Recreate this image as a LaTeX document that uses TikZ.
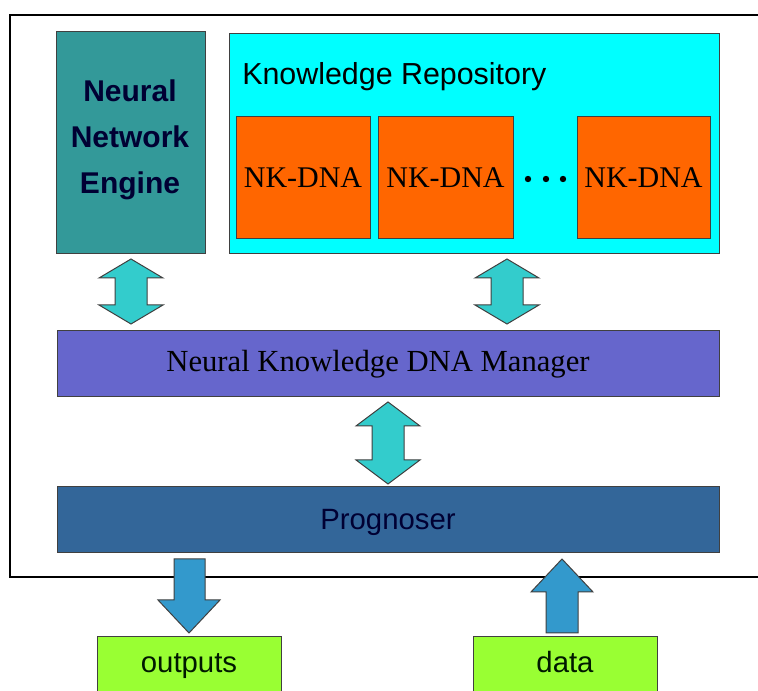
\documentclass[tikz,border=0pt]{standalone}
\usepackage{fontspec}
\setmainfont{Liberation Serif}
\setsansfont{Liberation Sans}
\usetikzlibrary{fit}
\definecolor{nnecol}{HTML}{339999}
\definecolor{krcol}{HTML}{00FFFF}
\definecolor{dnacol}{HTML}{FF6600}
\definecolor{mgrcol}{HTML}{6666CC}
\definecolor{progcol}{HTML}{336699}
\definecolor{dblcol}{HTML}{33CCCC}
\definecolor{sglcol}{HTML}{3399CC}
\definecolor{iocol}{HTML}{99FF33}
\definecolor{edge}{HTML}{404040}
\definecolor{navy}{HTML}{000033}
\newcommand\dblarr[4]{% cx, ytop, ybot, head length
  \draw[dblarrow] (#1,#2) -- ++(32,#4) -- ++(-16,0) -- ({#1+16},{#3-#4}) -- ++(16,0)
    -- (#1,#3) -- ++(-32,-#4) -- ++(16,0) -- ({#1-16},{#2+#4}) -- ++(-16,0) -- cycle;}
\begin{document}
\begin{tikzpicture}[x=0.75pt,y=-0.75pt,
  box/.style={draw=edge, line width=0.75pt, inner sep=0pt},
  frameline/.style={draw=black, line width=0.8pt},
  dblarrow/.style={fill=dblcol, draw=edge, line width=0.75pt, line join=miter},
  sglarrow/.style={fill=sglcol, draw=edge, line width=0.75pt, line join=miter},
  sanslbl/.style={font=\sffamily\fontsize{22}{34.5}\selectfont, inner sep=0pt},
  seriflbl/.style={font=\rmfamily\fontsize{22.5}{27}\selectfont, inner sep=0pt}]
\clip (0,0) rectangle (758,691);
\fill[white] (0,0) rectangle (758,691);
% outer frame (open to the right)
\draw[frameline] (758,15) -- (10,15) -- (10,577) -- (758,577);
% Neural Network Engine
\node[box, fill=nnecol, fit={(56,32)(205,254)}] (nne) {};
\node[sanslbl, text=navy, align=center, font=\sffamily\bfseries\fontsize{22.5}{34.5}\selectfont] (nnetext) at (130,140) {Neural\\Network\\Engine};
% Knowledge Repository
\node[box, fill=krcol, fit={(229,34)(719,254)}] (kr) {};
\node[sanslbl, anchor=base west, font=\sffamily\fontsize{22.8}{27}\selectfont] (krtext) at (242,85) {Knowledge Repository};
\node[box, fill=dnacol, fit={(236,117)(370,239)}] (dna1) {};
\node[box, fill=dnacol, fit={(378,117)(513,239)}] (dna2) {};
\node[box, fill=dnacol, fit={(577,117)(710,239)}] (dna3) {};
\node[seriflbl, anchor=base] (dna1t) at (303,188) {NK-DNA};
\node[seriflbl, anchor=base] (dna2t) at (445.5,188) {NK-DNA};
\node[seriflbl, anchor=base] (dna3t) at (643.5,188) {NK-DNA};
\fill (528,179) circle[radius=2.4pt];
\fill (546,179) circle[radius=2.4pt];
\fill (563,179) circle[radius=2.4pt];
% Manager
\node[box, fill=mgrcol, fit={(57,331)(719,397)}] (mgr) {};
\node[seriflbl, anchor=base, text=black, font=\rmfamily\fontsize{23}{27}\selectfont] (mgrtext) at (378,372) {Neural Knowledge DNA Manager};
% Prognoser
\node[box, fill=progcol, fit={(57,487)(719,553)}] (prog) {};
\node[sanslbl, anchor=base, text=navy] (progtext) at (388,530) {Prognoser};
% double arrows
\dblarr{131}{259}{324}{19}
\dblarr{507}{259}{324}{19}
\dblarr{388}{402}{484}{24}
% outputs / data
\node[box, fill=iocol, fit={(97,637)(281,700)}] (out) {};
\node[box, fill=iocol, fit={(473,637)(657,700)}] (data) {};
\node[sanslbl, anchor=base, text=black!90!green] (outtext) at (189,673) {outputs};
\node[sanslbl, anchor=base, text=black!90!green] (datatext) at (565,673) {data};
% single arrows
\draw[sglarrow] (174,559) -- (205,559) -- (205,600) -- (220,600) -- (189,633) -- (158,600) -- (174,600) -- cycle;
\draw[sglarrow] (562,559) -- (593,592) -- (578,592) -- (578,633) -- (546,633) -- (546,592) -- (531,592) -- cycle;
\end{tikzpicture}
\end{document}
